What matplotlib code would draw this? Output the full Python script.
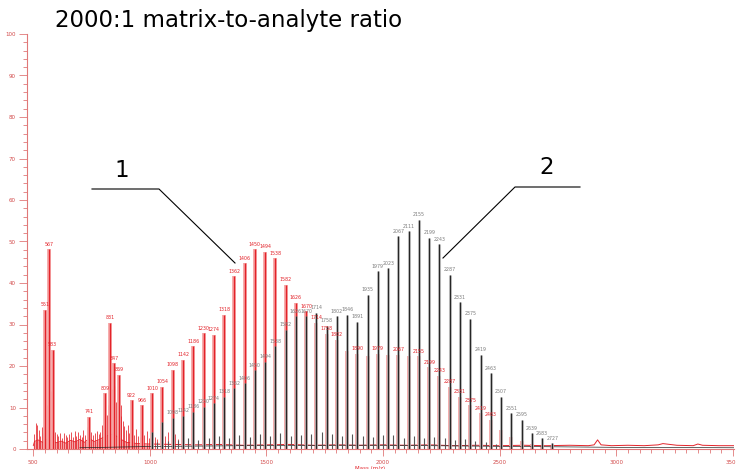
import matplotlib.pyplot as plt
from matplotlib.lines import Line2D
from matplotlib.ticker import MultipleLocator

# main oligomer series, 44 Da spacing
peak_mz = [1010, 1054, 1098, 1142, 1186, 1230, 1274, 1318, 1362, 1406,
           1450, 1494, 1538, 1582, 1626, 1670, 1714, 1758, 1802, 1846,
           1890, 1934, 1978, 2022, 2066, 2110, 2154, 2198, 2242, 2286,
           2330, 2374, 2418, 2462, 2506, 2550, 2594, 2638, 2682, 2726]
red_int = [13.4, 15.0, 19.1, 21.5, 24.7, 27.9, 27.5, 32.4, 41.6, 44.8,
           48.1, 47.5, 46.0, 39.6, 35.2, 33.2, 30.4, 27.8, 26.3, 23.6,
           23.0, 22.5, 23.0, 22.6, 22.7, 22.5, 22.3, 19.7, 17.7, 15.0,
           12.6, 10.6, 8.6, 7.0, 4.6, 3.0, 2.0, 1.2, 0.8, 0.5]
black_int = [4.0, 6.6, 7.5, 8.0, 9.0, 10.2, 11.0, 12.6, 14.7, 15.9,
             19.0, 21.0, 24.7, 28.7, 32.0, 32.0, 32.8, 29.7, 32.0, 32.4,
             30.7, 37.2, 42.8, 43.6, 51.3, 52.5, 55.3, 50.9, 49.3, 42.0,
             35.4, 31.4, 22.7, 18.3, 12.6, 8.6, 7.0, 3.8, 2.6, 1.4]
red_labels = ["1010", "1054", "1098", "1142", "1186", "1230", "1274", "1318", "1362", "1406",
              "1450", "1494", "1538", "1582", "1626", "1670", "1714", "1758", "1802", "",
              "1890", "", "1979", "", "2067", "", "2155", "2199", "2243", "2287",
              "2331", "2375", "2419", "2463", "", "", "", "", "", ""]
black_labels = ["", "", "1098", "1142", "1186", "1230", "1274", "1318", "1362", "1406",
                "1450", "1494", "1538", "1582", "1626", "1670", "1714", "1758", "1802", "1846",
                "1891", "1935", "1979", "2023", "2067", "2111", "2155", "2199", "2243", "2287",
                "2331", "2375", "2419", "2463", "2507", "2551", "2595", "2639", "2683", "2727"]

# matrix region peaks (red trace only)
low_mz = [551, 567, 583, 741, 809, 831, 847, 869, 922, 966]
low_int = [33.6, 48.1, 23.9, 7.8, 13.4, 30.4, 20.7, 17.9, 11.8, 10.6]

minor_red_mz = [505, 510, 516, 523, 529, 536, 543, 557, 561, 575, 579,
                592, 600, 608, 616, 623, 631, 639, 646, 654, 662,
                669, 677, 685, 692, 700, 707, 715, 723, 730,
                749, 757, 765, 772, 780, 788, 795, 803,
                816, 822, 826, 836, 840, 852, 856, 862, 865,
                874, 878, 884, 891, 898, 905, 912,
                930, 940, 948, 956, 975, 987, 995,
                1020, 1032, 1064, 1078, 1108, 1120]
minor_red_int = [3.5, 6.3, 5.8, 4.6, 3.2, 5.4, 3.9, 10.5, 6.0, 14.0, 8.5,
                 4.2, 3.6, 3.1, 3.8, 2.6, 3.9, 3.3, 2.8, 3.7, 4.1,
                 3.0, 4.4, 3.2, 4.0, 3.4, 3.0, 4.6, 3.3, 5.2,
                 4.1, 3.3, 3.9, 4.4, 3.5, 4.2, 5.7, 4.3,
                 8.2, 10.6, 6.4, 14.5, 9.0, 15.2, 11.3, 12.4, 9.6,
                 8.0, 10.5, 6.8, 5.5, 4.6, 5.8, 3.9,
                 3.4, 4.8, 3.1, 2.9, 3.3, 4.4, 2.6,
                 3.0, 2.5, 3.1, 4.2, 3.6, 2.4]

minor_blk_mz = [1032, 1076, 1120, 1164, 1208, 1252, 1296, 1340, 1384, 1428,
                1472, 1516, 1560, 1604, 1648, 1692, 1736, 1780, 1824, 1868,
                1912, 1956, 2000, 2044, 2088, 2132, 2176, 2220, 2264, 2308,
                2352, 2396, 2440, 2484]
minor_blk_int = [1.6, 2.0, 2.2, 2.6, 2.1, 2.7, 3.1, 2.6, 3.3, 3.0,
                 3.6, 3.1, 3.8, 3.2, 3.4, 3.7, 4.1, 3.6, 3.2, 3.7,
                 3.1, 2.9, 3.3, 3.4, 2.6, 3.1, 2.7, 2.9, 2.6, 2.1,
                 2.3, 1.9, 1.6, 1.3]

# baseline traces
base_low_mz = [500, 505, 520, 540, 560, 580, 600, 620, 640, 660,
               680, 700, 720, 740, 760, 780, 800, 820, 840, 860,
               880, 900, 950, 1000]
base_low_y = [0.8, 1.8, 2.2, 1.6, 2.4, 2.0, 1.5, 1.9, 1.4, 2.1,
              1.7, 2.3, 1.6, 2.6, 1.8, 2.2, 2.8, 3.2, 3.6, 3.0,
              2.2, 1.6, 1.3, 1.2]
base_high_mz = [1000, 1100, 1200, 1300, 1400, 1500, 1600,
                1700, 1800, 1900, 2000, 2100, 2200, 2300, 2400, 2500, 2600,
                2700, 2800, 2880, 2905, 2920, 2935, 2980, 3050, 3120, 3180,
                3200, 3260, 3330, 3350, 3370, 3440, 3505]
base_high_y = [1.2, 1.1, 1.0, 1.1, 0.9, 1.0, 1.1,
               0.9, 1.0, 0.9, 1.0, 0.9, 1.0, 0.8, 0.9, 0.8, 0.9,
               0.8, 0.9, 0.8, 1.0, 2.2, 1.0, 0.8, 0.9, 0.8, 1.0,
               1.3, 0.9, 0.8, 1.2, 0.9, 0.8, 0.8]
base_blk_mz = [700, 900, 1000, 1200, 1400, 1600, 1800, 2000, 2200, 2400, 2600, 2800, 3000, 3505]
base_blk_y = [0.3, 0.5, 0.6, 0.7, 0.8, 0.8, 0.9, 0.9, 0.8, 0.7, 0.6, 0.5, 0.4, 0.3]

W, H = 736, 469
fig = plt.figure(figsize=(W / 100, H / 100), dpi=100)
ax = fig.add_axes([27 / W, 20 / H, 707 / W, 415 / H])

red, red_halo = "#e3232a", "#f6aaaa"
blk, blk_halo = "#262626", "#bdbdbd"
axis_col = "#e07878"

# red spectrum
ax.fill_between(base_low_mz, 0, base_low_y, color=red, alpha=0.4, lw=0)
ax.plot(base_low_mz, base_low_y, color=red, lw=0.6)
ax.plot(base_high_mz, base_high_y, color=red, lw=0.7)
ax.vlines(minor_red_mz, 0, minor_red_int, color=red, lw=0.7, alpha=0.8)
all_red_mz = low_mz + peak_mz
all_red_int = low_int + red_int
ax.vlines(all_red_mz, 0, all_red_int, color=red_halo, lw=2.8)
ax.vlines(all_red_mz, 0, all_red_int, color=red, lw=1.0)

# black spectrum on top
ax.plot(base_blk_mz, base_blk_y, color=blk, lw=0.5)
ax.vlines(minor_blk_mz, 0, minor_blk_int, color="#555555", lw=0.8)
ax.vlines(peak_mz, 0, black_int, color=blk_halo, lw=2.2, alpha=0.8)
ax.vlines(peak_mz, 0, black_int, color=blk, lw=0.9)

lab_kw = dict(ha="center", va="bottom", fontsize=3.4)
for m, h in zip(low_mz, low_int):
    ax.text(m, h + 0.6, str(m), color=red, **lab_kw)
for m, h, t in zip(peak_mz, red_int, red_labels):
    if t:
        ax.text(m, h + 0.6, t, color=red, **lab_kw)
for m, h, t in zip(peak_mz, black_int, black_labels):
    if t:
        ax.text(m, h + 0.6, t, color="#7d7d7d", **lab_kw)

ax.set_xlim(473, 3505)
ax.set_ylim(0, 100)
ax.xaxis.set_major_locator(MultipleLocator(500))
ax.xaxis.set_minor_locator(MultipleLocator(50))
ax.yaxis.set_major_locator(MultipleLocator(10))
ax.yaxis.set_minor_locator(MultipleLocator(2))
for s in ["top", "right"]:
    ax.spines[s].set_visible(False)
for s in ["left", "bottom"]:
    ax.spines[s].set_color(axis_col)
    ax.spines[s].set_linewidth(0.8)
ax.tick_params(which="both", direction="out", color=axis_col, width=0.6,
               labelsize=4, labelcolor="#d24a4a")
ax.tick_params(axis="y", which="major", length=6, pad=2)
ax.tick_params(axis="y", which="minor", length=3)
ax.tick_params(axis="x", which="major", length=5, pad=3)
ax.tick_params(axis="x", which="minor", length=3)

fig.text(370 / W, 1 - 466 / H, "Mass (m/z)", color=red, fontsize=4,
         ha="center", va="top")

# title and callouts
fig.text(55 / W, 1 - 21 / H, "2000:1 matrix-to-analyte ratio", fontsize=16.5,
         ha="left", va="center")
fig.text(122 / W, 1 - 170 / H, "1", fontsize=16.5, ha="center", va="center")
fig.text(547 / W, 1 - 168 / H, "2", fontsize=16.5, ha="center", va="center")
for xs, ys in [([92, 159, 235], [189, 189, 263]),
               ([580, 515, 443], [187, 187, 258])]:
    fig.add_artist(Line2D([x / W for x in xs], [1 - y / H for y in ys],
                          transform=fig.transFigure, color="black", lw=0.8))

fig.savefig("out.png", dpi=100)
